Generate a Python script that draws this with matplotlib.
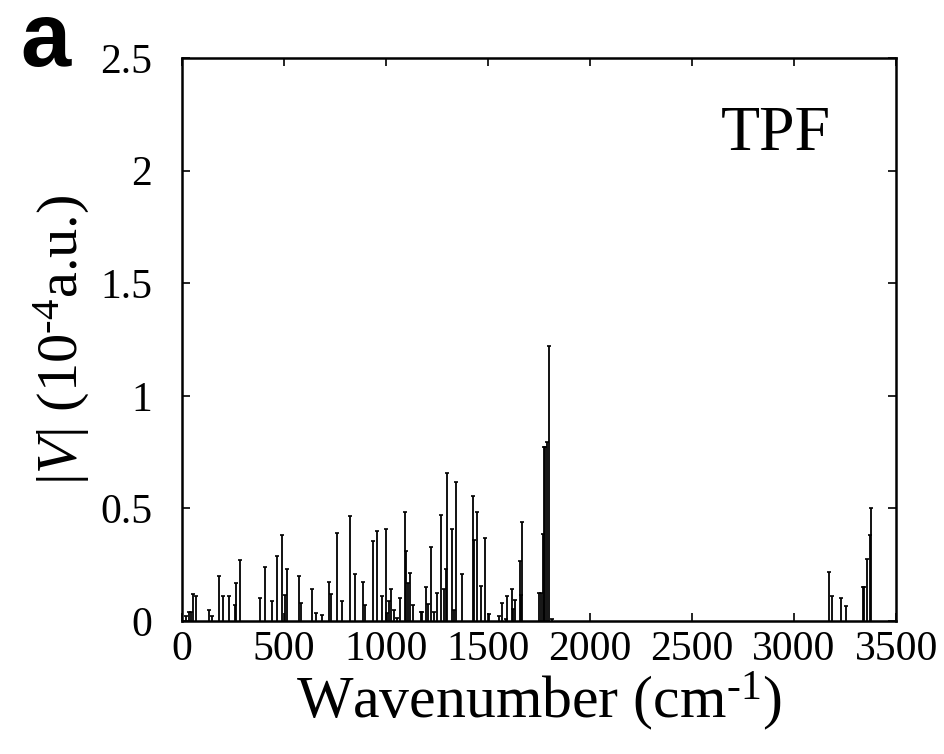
import matplotlib
matplotlib.use('Agg')
import matplotlib.pyplot as plt

# stick positions (cm^-1) and |V| values (1e-4 a.u.)
wavenumber = [20, 35, 45, 56, 72, 134, 149, 185, 203, 232, 260, 265, 285,
              383, 407, 445, 466, 494, 506, 519, 574, 583, 640, 660, 689,
              722, 730, 760, 784, 824, 849, 889, 900, 936, 957, 982, 1003,
              1008, 1016, 1028, 1039, 1055, 1070, 1095, 1101, 1111, 1119,
              1132, 1175, 1180, 1198, 1206, 1221, 1237, 1250, 1273, 1286,
              1296, 1301, 1327, 1335, 1345, 1375, 1430, 1433, 1445, 1468,
              1486, 1505, 1556, 1568, 1587, 1595, 1617, 1625, 1635, 1659,
              1664, 1668, 1753, 1760, 1769, 1776, 1781, 1790, 1802, 1815,
              3173, 3184, 3230, 3255, 3340, 3345, 3355, 3370, 3376]
intensity = [0.02, 0.04, 0.04, 0.12, 0.11, 0.05, 0.02, 0.20, 0.11, 0.11,
             0.07, 0.17, 0.27, 0.10, 0.24, 0.09, 0.29, 0.38, 0.115, 0.23,
             0.20, 0.08, 0.14, 0.035, 0.025, 0.175, 0.12, 0.39, 0.09, 0.465,
             0.21, 0.175, 0.07, 0.357, 0.40, 0.11, 0.41, 0.035, 0.09, 0.14,
             0.05, 0.015, 0.10, 0.485, 0.31, 0.17, 0.215, 0.07, 0.04, 0.04,
             0.15, 0.075, 0.33, 0.04, 0.125, 0.47, 0.14, 0.23, 0.655, 0.41,
             0.05, 0.615, 0.21, 0.556, 0.36, 0.485, 0.155, 0.367, 0.03, 0.02,
             0.08, 0.01, 0.11, 0.14, 0.055, 0.093, 0.266, 0.115, 0.44, 0.125,
             0.125, 0.386, 0.774, 0.774, 0.797, 1.223, 0.01, 0.216, 0.11,
             0.10, 0.066, 0.15, 0.15, 0.274, 0.38, 0.503]

xticks = [0, 500, 1000, 1500, 2000, 2500, 3000, 3500]
yticks = [0, 0.5, 1, 1.5, 2, 2.5]
ytick_labels = ['0', '0.5', '1', '1.5', '2', '2.5']

plt.rcParams['font.family'] = 'Liberation Serif'
plt.rcParams['mathtext.fontset'] = 'custom'
plt.rcParams['mathtext.rm'] = 'Liberation Serif'
plt.rcParams['mathtext.it'] = 'Liberation Serif:italic'

fig = plt.figure(figsize=(9.44, 7.54), dpi=100)
ax = fig.add_axes([0.1923, 0.1764, 0.757, 0.7467])

ax.vlines(wavenumber, 0, intensity, color='black', linewidth=1.3)
ax.plot(wavenumber, intensity, linestyle='none', marker='_', markersize=3,
        color='black', markeredgewidth=1.2)

ax.set_xlim(0, 3500)
ax.set_ylim(0, 2.5)
ax.set_xticks(xticks)
ax.set_yticks(yticks)
ax.set_yticklabels(ytick_labels)
ax.tick_params(direction='in', length=6, width=1.2, labelsize=30,
               top=True, right=True)
ax.tick_params(axis='x', pad=7)
ax.tick_params(axis='y', pad=21)
for s in ax.spines.values():
    s.set_linewidth(1.8)

ax.set_xlabel(r'Wavenumber (cm$^{\text{-1}}$)', fontsize=43, labelpad=0)
ax.set_ylabel(r'|$\mathit{V}$| (10$^{\text{-4}}$a.u.)', fontsize=42, labelpad=6)

ax.text(0.908, 0.915, 'TPF', transform=ax.transAxes, fontsize=46,
        ha='right', va='top')
fig.text(0.022, 0.912, 'a', fontsize=65, fontweight='bold',
         family='Liberation Sans', ha='left', va='baseline')

fig.savefig('out.png', dpi=100)
